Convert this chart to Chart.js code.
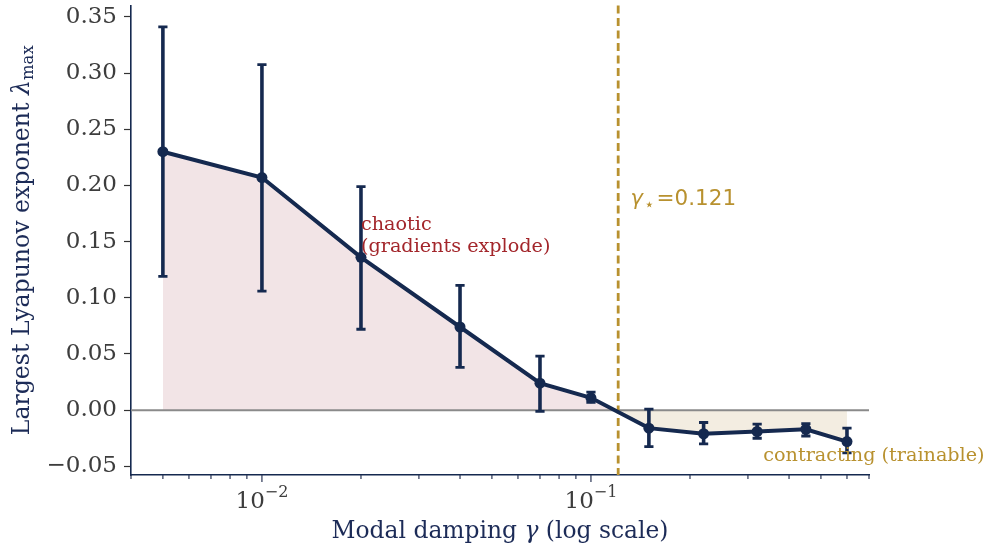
<!DOCTYPE html>
<html><head><meta charset="utf-8">
<script src="https://cdn.jsdelivr.net/npm/chart.js@4/dist/chart.umd.min.js"></script>
<style>html,body{margin:0;padding:0;background:#fff}</style>
</head><body>
<canvas id="c" width="988" height="550" style="width:988px;height:550px;display:block"></canvas>
<script>
// ---- data ----
const gammas    = [0.005, 0.01, 0.02, 0.04, 0.07, 0.1, 0.15, 0.22, 0.32, 0.45, 0.6];
const lyapMean  = [0.230, 0.207, 0.136, 0.074, 0.024, 0.011, -0.016, -0.021, -0.019, -0.017, -0.028];
const lyapLow   = [0.119, 0.106, 0.072, 0.038, -0.001, 0.007, -0.0325, -0.030, -0.025, -0.023, -0.038];
const lyapHigh  = [0.341, 0.3075, 0.199, 0.111, 0.048, 0.016, 0.001, -0.011, -0.0125, -0.012, -0.016];
const gammaStar = 0.121;
const yTickValues = [-0.05, 0, 0.05, 0.10, 0.15, 0.20, 0.25, 0.30, 0.35];
const xMajorTicks = [0.01, 0.1];
const xMajorExponents = ['−2', '−1'];
const xRange = [0.004, 0.7];
const yRange = [-0.0577, 0.3601];
const annotChaotic = ['chaotic', '(gradients explode)'];
const annotContract = 'contracting (trainable)';
const annotStar = '=0.121';

const NAVY = '#15294f';
const GOLD = '#b8912f';
const RED = '#a3262b';
const SERIF = '"DejaVu Serif", serif';
const SANS = '"DejaVu Sans", sans-serif';

const deco = {
  id: 'deco',
  beforeDatasetDraw(chart) {
    const {ctx, chartArea: a, scales: {x, y}} = chart;
    ctx.save();
    const y0 = y.getPixelForValue(0);
    ctx.strokeStyle = '#8a8a8a'; ctx.lineWidth = 2;
    ctx.beginPath(); ctx.moveTo(a.left, y0); ctx.lineTo(a.right, y0); ctx.stroke();
    const xs = x.getPixelForValue(gammaStar);
    ctx.strokeStyle = GOLD; ctx.lineWidth = 2.8; ctx.setLineDash([8, 4.5]);
    ctx.beginPath(); ctx.moveTo(xs, a.top); ctx.lineTo(xs, a.bottom); ctx.stroke();
    ctx.restore();
  },
  afterDatasetsDraw(chart) {
    const {ctx, scales: {x, y}} = chart;
    ctx.save();
    ctx.strokeStyle = NAVY;
    for (let i = 0; i < gammas.length; i++) {
      const px = x.getPixelForValue(gammas[i]);
      const lo = y.getPixelForValue(lyapLow[i]);
      const hi = y.getPixelForValue(lyapHigh[i]);
      ctx.lineWidth = 3.6;
      ctx.beginPath(); ctx.moveTo(px, lo); ctx.lineTo(px, hi); ctx.stroke();
      ctx.lineWidth = 2.8;
      ctx.beginPath();
      ctx.moveTo(px - 4.6, lo); ctx.lineTo(px + 4.6, lo);
      ctx.moveTo(px - 4.6, hi); ctx.lineTo(px + 4.6, hi);
      ctx.stroke();
    }
    // annotations
    ctx.textBaseline = 'alphabetic'; ctx.textAlign = 'left';
    ctx.font = '19.2px ' + SERIF; ctx.fillStyle = RED;
    const cx = x.getPixelForValue(0.02);
    ctx.fillText(annotChaotic[0], cx, 230);
    ctx.fillText(annotChaotic[1], cx, 251.5);
    ctx.fillStyle = GOLD;
    ctx.fillText(annotContract, x.getPixelForValue(0.334), 461);
    // gamma star label
    let sx = x.getPixelForValue(gammaStar * 1.09);
    ctx.font = 'italic 21px ' + SANS;
    ctx.fillText('γ', sx, 205);
    sx += ctx.measureText('γ').width + 1;
    ctx.font = '17px ' + SANS;
    ctx.fillText('⋆', sx, 210);
    sx += ctx.measureText('⋆').width + 2;
    ctx.font = '21.5px ' + SANS;
    ctx.fillText(annotStar, sx, 205);
    ctx.restore();
  },
  afterDraw(chart) {
    const {ctx, chartArea: a, scales: {x}} = chart;
    ctx.save();
    // x ticks (major + minor)
    ctx.strokeStyle = '#2a3555'; ctx.lineWidth = 1.2;
    for (let e = -3; e <= 0; e++) {
      for (let m = 1; m <= 9; m++) {
        const v = m * Math.pow(10, e);
        if (v < xRange[0] * 0.999 || v > xRange[1] * 1.001) continue;
        const px = x.getPixelForValue(v);
        const len = m === 1 ? 7 : 4;
        ctx.beginPath(); ctx.moveTo(px, a.bottom); ctx.lineTo(px, a.bottom + len); ctx.stroke();
      }
    }
    // x tick labels
    ctx.fillStyle = '#3d3d3d'; ctx.textBaseline = 'alphabetic';
    xMajorTicks.forEach((v, i) => {
      const px = x.getPixelForValue(v);
      ctx.font = '23px ' + SERIF;
      const w1 = ctx.measureText('10').width;
      ctx.font = '16px ' + SERIF;
      const w2 = ctx.measureText(xMajorExponents[i]).width;
      const start = px - (w1 + w2) / 2;
      ctx.font = '23px ' + SERIF; ctx.textAlign = 'left';
      ctx.fillText('10', start, 508);
      ctx.font = '16px ' + SERIF;
      ctx.fillText(xMajorExponents[i], start + w1, 497);
    });
    // x title
    ctx.fillStyle = '#1c2b57';
    const parts = [['Modal damping ', '23.4px ' + SERIF], ['γ', 'italic 23.4px ' + SERIF], [' (log scale)', '23.4px ' + SERIF]];
    let tw = 0;
    parts.forEach(p => { ctx.font = p[1]; tw += ctx.measureText(p[0]).width; });
    let tx = (a.left + a.right) / 2 - tw / 2;
    parts.forEach(p => { ctx.font = p[1]; ctx.fillText(p[0], tx, 538); tx += ctx.measureText(p[0]).width; });
    // y title
    ctx.save();
    ctx.translate(29, (a.top + a.bottom) / 2);
    ctx.rotate(-Math.PI / 2);
    const main = 'Largest Lyapunov exponent ';
    ctx.font = '23.6px ' + SERIF;
    const wm = ctx.measureText(main).width;
    ctx.font = 'italic 23.6px ' + SERIF;
    const wl = ctx.measureText('λ').width;
    ctx.font = '16.5px ' + SERIF;
    const ws = ctx.measureText('max').width;
    let yx = -(wm + wl + ws) / 2;
    ctx.textAlign = 'left';
    ctx.font = '23.6px ' + SERIF; ctx.fillText(main, yx, 0); yx += wm;
    ctx.font = 'italic 23.6px ' + SERIF; ctx.fillText('λ', yx, 0); yx += wl;
    ctx.font = '16.5px ' + SERIF; ctx.fillText('max', yx, 4);
    ctx.restore();
    ctx.restore();
  }
};

new Chart(document.getElementById('c'), {
  type: 'line',
  data: {
    datasets: [{
      data: gammas.map((g, i) => ({x: g, y: lyapMean[i]})),
      borderColor: NAVY,
      borderWidth: 4,
      pointRadius: 5.5,
      pointBackgroundColor: NAVY,
      pointBorderColor: NAVY,
      pointBorderWidth: 0,
      tension: 0,
      fill: {target: {value: 0}, above: '#f2e4e6', below: '#f3ede1'}
    }]
  },
  options: {
    responsive: false,
    animation: false,
    layout: {padding: {top: 2, right: 119, left: 0, bottom: 0}},
    plugins: {legend: {display: false}, tooltip: {enabled: false}},
    scales: {
      x: {
        type: 'logarithmic', min: xRange[0], max: xRange[1],
        ticks: {display: false},
        grid: {display: false},
        border: {display: true, color: NAVY, width: 1.6},
        afterFit(s) { s.height = 75; s.paddingLeft = 0; s.paddingRight = 0; }
      },
      y: {
        min: yRange[0], max: yRange[1],
        afterBuildTicks(s) { s.ticks = yTickValues.map(v => ({value: v})); },
        ticks: {
          padding: 7,
          color: '#3d3d3d',
          font: {family: SERIF, size: 23},
          callback: v => (v < -1e-9 ? '−' : '') + Math.abs(v).toFixed(2)
        },
        grid: {display: true, drawOnChartArea: false, drawTicks: true, tickLength: 7, tickColor: '#333', tickWidth: 1.2},
        border: {display: true, color: NAVY, width: 1.6},
        afterFit(s) { s.width = 131; s.paddingTop = 0; s.paddingBottom = 0; }
      }
    }
  },
  plugins: [deco]
});
</script>
</body></html>
